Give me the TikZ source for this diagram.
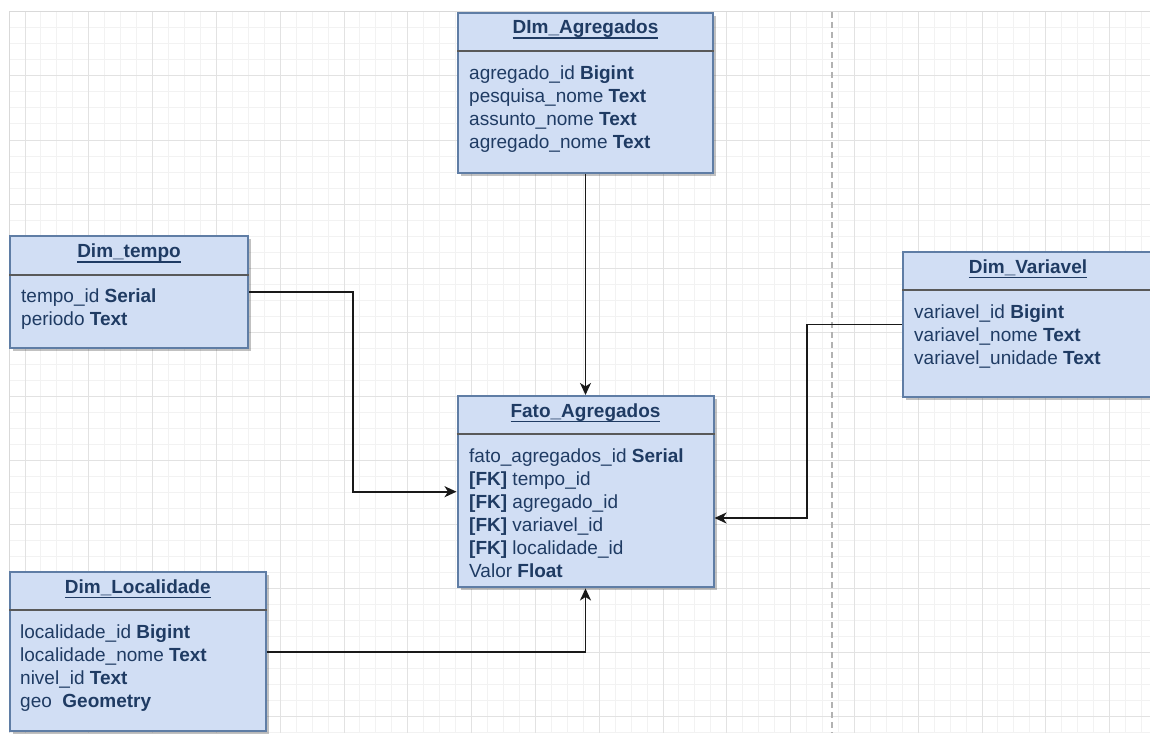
\documentclass[tikz,border=0pt]{standalone}
\usepackage{fontspec}
\setmainfont{Liberation Sans}
\usetikzlibrary{arrows.meta,shadows,calc}
\definecolor{tblfill}{HTML}{D1DEF4}
\definecolor{tbldraw}{HTML}{5F7DA5}
\definecolor{tbltext}{HTML}{1F3B63}
\definecolor{gridminor}{HTML}{F2F2F2}
\definecolor{gridmajor}{HTML}{E2E2E2}
\newcommand{\tbltitle}[1]{\setbox0\hbox{\bfseries #1}\rlap{\rule[-5pt]{\wd0}{1.3pt}}\box0}
\tikzset{
  tbl/.style={rectangle, draw=tbldraw, line width=2pt, fill=tblfill, inner sep=0pt,
    drop shadow={shadow xshift=3pt, shadow yshift=-3pt, opacity=0.35, fill=black!70}},
  tblhead/.style={anchor=base, inner sep=0pt, text=tbltext, font=\fontsize{19}{22.8}\selectfont},
  tblbody/.style={anchor=north west, inner sep=0pt, align=left, text=tbltext,
    font=\fontsize{19}{23}\selectfont},
  sepline/.style={draw=black!65, line width=2pt},
  fk/.style={draw=black!90, line width=1.8pt, -{Stealth[length=12pt,width=11pt,inset=3.5pt]}},
}

\begin{document}
\begin{tikzpicture}[x=1pt,y=-1pt]
\useasboundingbox (0,0) rectangle (1150,733);
% canvas grid
\foreach \i in {0,...,72}
  \draw[gridminor, line width=1pt] ({9.05+15.95*\i},12) -- ({9.05+15.95*\i},733);
\foreach \j in {0,...,45}
  \draw[gridminor, line width=1pt] (9,{12+16*\j}) -- (1150,{12+16*\j});
\foreach \i in {0,...,17}
  \draw[gridmajor, line width=1pt] ({25+63.8*\i},12) -- ({25+63.8*\i},733);
\foreach \j in {0,...,11}
  \draw[gridmajor, line width=1pt] (9,{12+64*\j}) -- (1150,{12+64*\j});
\draw[black!15, line width=1pt] (9,733) -- (9,12) -- (1150,12);
\draw[black!30, line width=1.3pt, dash pattern=on 6pt off 4pt] (832,12) -- (832,733);

% tables
\node[tbl, minimum width=255, minimum height=160] (agreg) at (585.5,92.9) {};
\draw[sepline] (agreg.west |- 0,50.7) -- (agreg.east |- 0,50.7);
\node[tblhead] (agregT) at (585.5,33.7) {\tbltitle{DIm\_Agregados}};
\node[tblbody] (agregB) at (469,65.2) {agregado\_id \textbf{Bigint}\\
  pesquisa\_nome \textbf{Text}\\ assunto\_nome \textbf{Text}\\ agregado\_nome \textbf{Text}};

\node[tbl, minimum width=238, minimum height=111.5] (tempo) at (129,292.2) {};
\draw[sepline] (tempo.west |- 0,274.5) -- (tempo.east |- 0,274.5);
\node[tblhead] (tempoT) at (129,257.5) {\tbltitle{Dim\_tempo}};
\node[tblbody] (tempoB) at (21,288.5) {tempo\_id \textbf{Serial}\\ periodo \textbf{Text}};

\node[tbl, minimum width=250, minimum height=144.4] (variavel) at (1028,324.5) {};
\draw[sepline] (variavel.west |- 0,290.3) -- (variavel.east |- 0,290.3);
\node[tblhead] (variavelT) at (1028,273.3) {\tbltitle{Dim\_Variavel}};
\node[tblbody] (variavelB) at (914,304.8) {variavel\_id \textbf{Bigint}\\
  variavel\_nome \textbf{Text}\\ variavel\_unidade \textbf{Text}};

\node[tbl, minimum width=256, minimum height=191.5] (fato) at (585.5,491.7) {};
\draw[sepline] (fato.west |- 0,434) -- (fato.east |- 0,434);
\node[tblhead] (fatoT) at (585.5,417) {\tbltitle{Fato\_Agregados}};
\node[tblbody] (fatoB) at (469,448.5) {fato\_agregados\_id \textbf{Serial}\\
  \textbf{[FK]} tempo\_id\\ \textbf{[FK]} agregado\_id\\ \textbf{[FK]} variavel\_id\\
  \textbf{[FK]} localidade\_id\\ Valor \textbf{Float}};

\node[tbl, minimum width=255.5, minimum height=158.7] (local) at (137.75,651.7) {};
\draw[sepline] (local.west |- 0,610.3) -- (local.east |- 0,610.3);
\node[tblhead] (localT) at (137.75,593.3) {\tbltitle{Dim\_Localidade}};
\node[tblbody] (localB) at (20,624.8) {localidade\_id \textbf{Bigint}\\
  localidade\_nome \textbf{Text}\\ nivel\_id \textbf{Text}\\ geo~~\textbf{Geometry}};

% relations
\coordinate (bendT) at (353,0);
\coordinate (bendV) at (807,0);
\coordinate (fatoV) at ($(fato.east)+(0,26.3)$);
\draw[fk] (agreg.south) -- (fato.north);
\draw[fk] (tempo.east) -- (bendT |- tempo.east) -- (bendT |- fato.west) -- (fato.west);
\draw[fk] (variavel.west) -- (bendV |- variavel.west) -- (bendV |- fatoV) -- (fatoV);
\draw[fk] (local.east) -| (fato.south);
\end{tikzpicture}
\end{document}
